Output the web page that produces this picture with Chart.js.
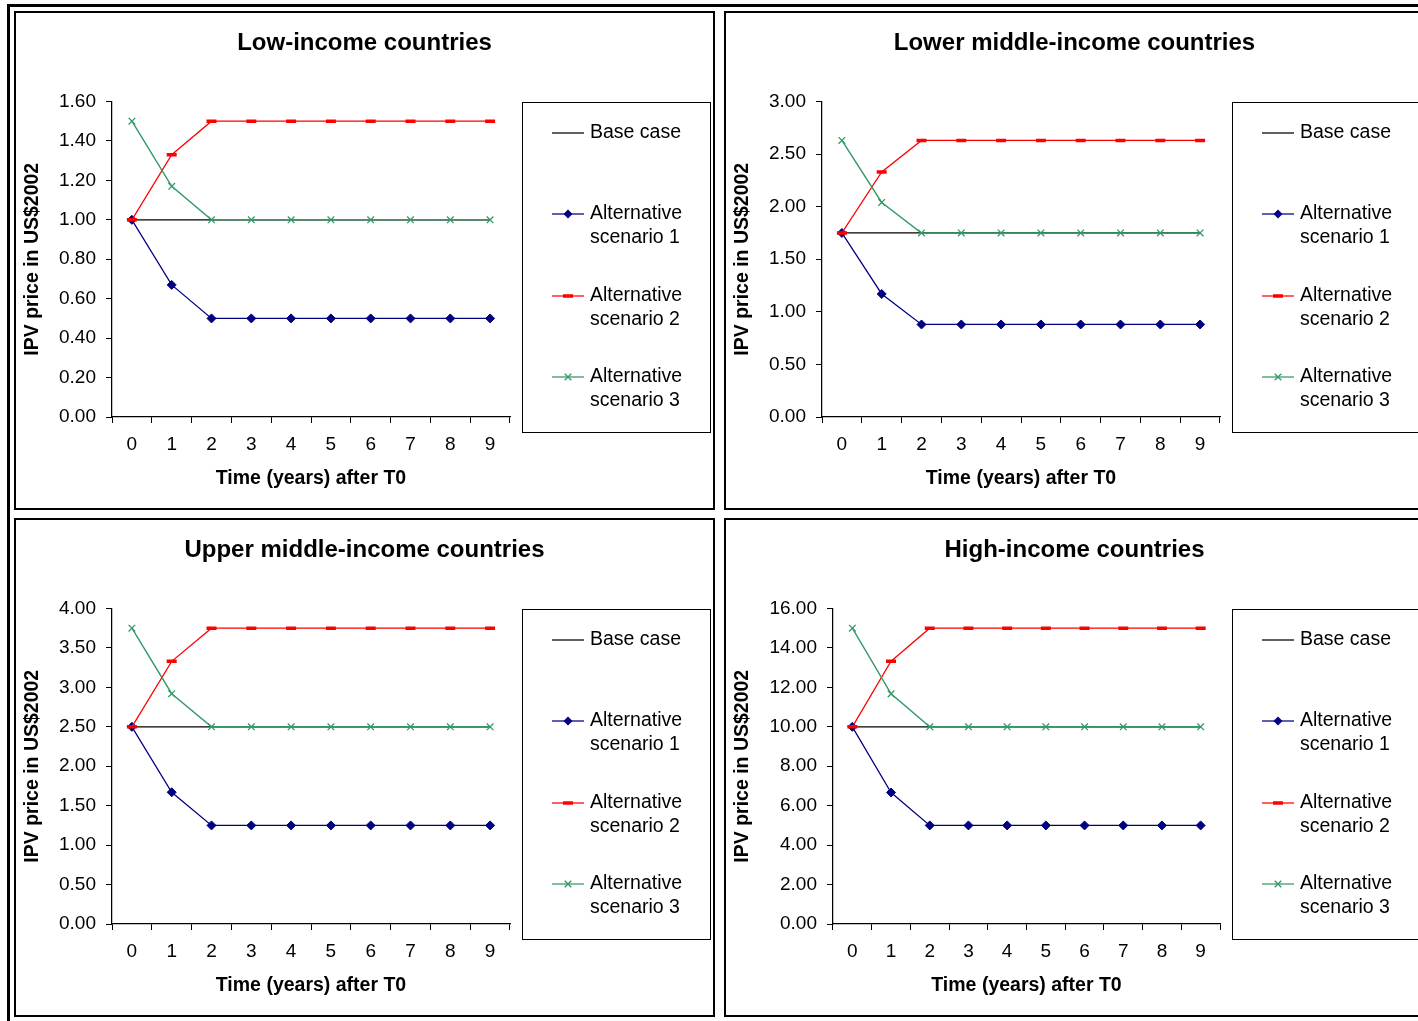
<!DOCTYPE html>
<html>
<head>
<meta charset="utf-8">
<script src="https://cdn.jsdelivr.net/npm/chart.js@4.4.0/dist/chart.umd.min.js"></script>
<style>
    body { margin: 0; background: #fff; overflow: hidden; }
    #moldura { position: absolute; left: 7px; top: 4px; width: 1500px; height: 1100px; border: 3px solid #000; }
    .painel { position: absolute; width: 697px; height: 495px; border: 2px solid #000; background: #fff; }
</style>
</head>
<body>
<div id="moldura"></div>
<div class="painel" style="left:14px;top:11px"><canvas id="chart-baixa" width="697" height="495"></canvas></div>
<div class="painel" style="left:724px;top:11px"><canvas id="chart-media-baixa" width="697" height="495"></canvas></div>
<div class="painel" style="left:14px;top:518px"><canvas id="chart-media-alta" width="697" height="495"></canvas></div>
<div class="painel" style="left:724px;top:518px"><canvas id="chart-alta" width="697" height="495"></canvas></div>

<script>
// Dados
const anos = ['0', '1', '2', '3', '4', '5', '6', '7', '8', '9'];

const baixaBase = [1.00, 1.00, 1.00, 1.00, 1.00, 1.00, 1.00, 1.00, 1.00, 1.00];
const baixaAlt1 = [1.00, 0.67, 0.50, 0.50, 0.50, 0.50, 0.50, 0.50, 0.50, 0.50];
const baixaAlt2 = [1.00, 1.33, 1.50, 1.50, 1.50, 1.50, 1.50, 1.50, 1.50, 1.50];
const baixaAlt3 = [1.50, 1.17, 1.00, 1.00, 1.00, 1.00, 1.00, 1.00, 1.00, 1.00];

const mediaBaixaBase = [1.75, 1.75, 1.75, 1.75, 1.75, 1.75, 1.75, 1.75, 1.75, 1.75];
const mediaBaixaAlt1 = [1.75, 1.17, 0.88, 0.88, 0.88, 0.88, 0.88, 0.88, 0.88, 0.88];
const mediaBaixaAlt2 = [1.75, 2.33, 2.63, 2.63, 2.63, 2.63, 2.63, 2.63, 2.63, 2.63];
const mediaBaixaAlt3 = [2.63, 2.04, 1.75, 1.75, 1.75, 1.75, 1.75, 1.75, 1.75, 1.75];

const mediaAltaBase = [2.50, 2.50, 2.50, 2.50, 2.50, 2.50, 2.50, 2.50, 2.50, 2.50];
const mediaAltaAlt1 = [2.50, 1.67, 1.25, 1.25, 1.25, 1.25, 1.25, 1.25, 1.25, 1.25];
const mediaAltaAlt2 = [2.50, 3.33, 3.75, 3.75, 3.75, 3.75, 3.75, 3.75, 3.75, 3.75];
const mediaAltaAlt3 = [3.75, 2.92, 2.50, 2.50, 2.50, 2.50, 2.50, 2.50, 2.50, 2.50];

const altaBase = [10.00, 10.00, 10.00, 10.00, 10.00, 10.00, 10.00, 10.00, 10.00, 10.00];
const altaAlt1 = [10.00, 6.67, 5.00, 5.00, 5.00, 5.00, 5.00, 5.00, 5.00, 5.00];
const altaAlt2 = [10.00, 13.33, 15.00, 15.00, 15.00, 15.00, 15.00, 15.00, 15.00, 15.00];
const altaAlt3 = [15.00, 11.67, 10.00, 10.00, 10.00, 10.00, 10.00, 10.00, 10.00, 10.00];

const nomesSeries = [['Base case'], ['Alternative', 'scenario 1'], ['Alternative', 'scenario 2'], ['Alternative', 'scenario 3']];

const fonte = '"Liberation Sans", Arial, sans-serif';
Chart.defaults.font.family = fonte;
Chart.defaults.color = '#000';

// Desenha o título centralizado no painel e a caixa de legenda à direita
const tituloELegenda = {
    id: 'tituloELegenda',
    afterDraw(chart, args, opts) {
        const ctx = chart.ctx;
        ctx.save();
        ctx.fillStyle = '#000';
        ctx.font = 'bold 24px ' + fonte;
        ctx.textAlign = 'center';
        ctx.textBaseline = 'middle';
        ctx.fillText(opts.texto, chart.width / 2, 30);

        const x0 = 506, y0 = 89, w = 188, h = 330;
        const posY = [31, 112, 194, 275];
        ctx.textAlign = 'left';
        ctx.strokeStyle = '#000';
        ctx.lineWidth = 1;
        ctx.strokeRect(x0 + 0.5, y0 + 0.5, w, h);
        ctx.font = '19.5px ' + fonte;
        chart.data.datasets.forEach(function (ds, i) {
            const y = y0 + posY[i];
            ctx.strokeStyle = ds.borderColor;
            ctx.lineWidth = 1.25;
            ctx.beginPath();
            ctx.moveTo(x0 + 30, y);
            ctx.lineTo(x0 + 62, y);
            ctx.stroke();
            const cx = x0 + 46;
            if (ds.pointStyle === 'rectRot') {
                ctx.fillStyle = ds.borderColor;
                ctx.beginPath();
                ctx.moveTo(cx - 4.5, y); ctx.lineTo(cx, y - 4.5); ctx.lineTo(cx + 4.5, y); ctx.lineTo(cx, y + 4.5);
                ctx.closePath();
                ctx.fill();
            } else if (ds.pointStyle === 'line') {
                ctx.lineWidth = 3.5;
                ctx.beginPath();
                ctx.moveTo(cx - 5, y); ctx.lineTo(cx + 5, y);
                ctx.stroke();
            } else if (ds.pointStyle === 'crossRot') {
                ctx.lineWidth = 1.3;
                ctx.beginPath();
                ctx.moveTo(cx - 3.3, y - 3.3); ctx.lineTo(cx + 3.3, y + 3.3);
                ctx.moveTo(cx - 3.3, y + 3.3); ctx.lineTo(cx + 3.3, y - 3.3);
                ctx.stroke();
            }
            ctx.fillStyle = '#000';
            nomesSeries[i].forEach(function (linha, j) {
                ctx.fillText(linha, x0 + 68, y + j * 23.5);
            });
        });
        ctx.restore();
    }
};

function plotarPainel(idCanvas, titulo, base, alt1, alt2, alt3, maxY, passo, larguraEixoY) {
    // Estrutura dos dados
    const dados = {
        labels: anos,
        datasets: [
            { label: 'Base case', data: base, borderColor: '#000000', borderWidth: 1.25, pointRadius: 0, order: 4 },
            { label: 'Alternative scenario 1', data: alt1, borderColor: '#000080', borderWidth: 1.25,
              pointStyle: 'rectRot', pointRadius: 4.5, pointBackgroundColor: '#000080', pointBorderColor: '#000080', pointBorderWidth: 1, order: 3 },
            { label: 'Alternative scenario 2', data: alt2, borderColor: '#ff0000', borderWidth: 1.25,
              pointStyle: 'line', pointRadius: 5, pointBorderColor: '#ff0000', pointBorderWidth: 3.5, order: 2 },
            { label: 'Alternative scenario 3', data: alt3, borderColor: '#339966', borderWidth: 1.4,
              pointStyle: 'crossRot', pointRadius: 4.7, pointBorderColor: '#339966', pointBorderWidth: 1.3, order: 1 }
        ]
    };

    const config = {
        type: 'line',
        data: dados,
        plugins: [tituloELegenda],
        options: {
            responsive: false,
            animation: false,
            layout: { padding: { left: 0, top: 88.5, right: 203, bottom: 0 } },
            plugins: {
                legend: { display: false },
                tooltip: { enabled: false },
                title: { display: false },
                tituloELegenda: { texto: titulo }
            },
            scales: {
                x: {
                    offset: true,
                    grid: { offset: true, drawOnChartArea: false, drawTicks: true, tickLength: 6, color: '#000' },
                    border: { color: '#000', width: 1.25 },
                    ticks: { color: '#000', font: { size: 19 }, padding: 10, maxRotation: 0, autoSkip: false },
                    title: { display: true, text: 'Time (years) after T0', color: '#000',
                             font: { size: 19.5, weight: 'bold' }, padding: { top: 0, bottom: 18 } },
                    afterFit: function (escala) { escala.height = 91; }
                },
                y: {
                    min: 0,
                    max: maxY,
                    grid: { drawOnChartArea: false, drawTicks: true, tickLength: 6, color: '#000' },
                    border: { color: '#000', width: 1.25 },
                    ticks: { stepSize: passo, color: '#000', font: { size: 19 }, padding: 10,
                             callback: function (v) { return Number(v).toFixed(2); } },
                    title: { display: true, text: 'IPV price in US$2002', color: '#000',
                             font: { size: 19.5, weight: 'bold' }, padding: { top: 5, bottom: 0 } },
                    afterFit: function (escala) { escala.width = larguraEixoY; }
                }
            }
        }
    };

    new Chart(document.getElementById(idCanvas), config);
}

plotarPainel('chart-baixa', 'Low-income countries', baixaBase, baixaAlt1, baixaAlt2, baixaAlt3, 1.6, 0.2, 96);
plotarPainel('chart-media-baixa', 'Lower middle-income countries', mediaBaixaBase, mediaBaixaAlt1, mediaBaixaAlt2, mediaBaixaAlt3, 3, 0.5, 96);
plotarPainel('chart-media-alta', 'Upper middle-income countries', mediaAltaBase, mediaAltaAlt1, mediaAltaAlt2, mediaAltaAlt3, 4, 0.5, 96);
plotarPainel('chart-alta', 'High-income countries', altaBase, altaAlt1, altaAlt2, altaAlt3, 16, 2, 107);
</script>
</body>
</html>
